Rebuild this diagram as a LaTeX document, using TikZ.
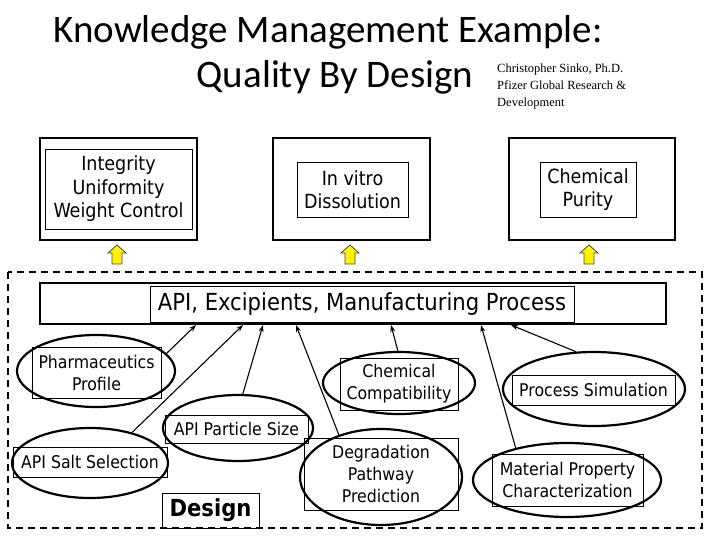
\documentclass[tikz,border=0pt]{standalone}
\usepackage{fontspec}
\setmainfont{DejaVu Sans Condensed}
\newfontfamily\titlefont{Carlito}
\newfontfamily\authfont{Liberation Serif}
\usetikzlibrary{shapes.geometric,arrows.meta}
\tikzset{
  txtbox/.style={draw,line width=0.6pt,align=center,inner sep=0pt},
  ell/.style={draw,ellipse,line width=2.2pt,inner sep=0pt},
  lnk/.style={line width=1.1pt,-{Stealth[length=7pt,width=5pt]}},
  yarrow/.style={draw=black!70,fill=yellow,line width=0.8pt},
  auth/.style={anchor=base west,inner sep=0pt,font=\authfont\fontsize{12.5}{14}\selectfont},
  etxt/.style={txtbox,font=\fontsize{17.5}{22}\selectfont},
}
\begin{document}
\begin{tikzpicture}[x=1pt,y=-1pt]
\useasboundingbox (0,0) rectangle (720,540);
% title
\node[anchor=base,font=\titlefont\fontsize{39}{40}\selectfont] (t1) at (328,43) {Knowledge Management Example:};
\node[anchor=base,font=\titlefont\fontsize{39}{40}\selectfont] (t2) at (335,88) {Quality By Design};
\node[auth] (au1) at (497,73) {Christopher Sinko, Ph.D.};
\node[auth] (au2) at (497,90) {Pfizer Global Research \&};
\node[auth] (au3) at (497,107) {Development};
% top boxes
\draw[line width=2.6pt] (40,138) rectangle (197,240);
\node[txtbox,minimum width=147,minimum height=80,font=\fontsize{19.5}{23.5}\selectfont] (b1) at (118.5,189) {Integrity\\Uniformity\\Weight Control};
\draw[line width=2.6pt] (273,138) rectangle (430,240);
\node[txtbox,minimum width=111,minimum height=55,font=\fontsize{19.5}{23.5}\selectfont] (b2) at (352.5,189.5) {In vitro\\Dissolution};
\draw[line width=2.6pt] (509,138) rectangle (675,240);
\node[txtbox,minimum width=96,minimum height=55,font=\fontsize{19.5}{23.5}\selectfont] (b3) at (588,189.5) {Chemical\\Purity};
% yellow arrows
\foreach \x in {117,350,589}{
  \draw[yarrow] (\x,245) -- (\x+9,253) -- (\x+5,253) -- (\x+5,264) -- (\x-5,264) -- (\x-5,253) -- (\x-9,253) -- cycle;
}
% dashed frame
\draw[line width=2.6pt,dash pattern=on 7pt off 5pt] (8,272) rectangle (702,528);
% big box
\draw[line width=2.8pt] (40,283) rectangle (666,324);
\node[txtbox,minimum width=424,minimum height=36,font=\fontsize{23.5}{26}\selectfont] (api) at (362,304) {API, Excipients, Manufacturing Process};
\coordinate (e1) at (196,325);
\coordinate (e2) at (243,325);
\coordinate (e3) at (263,325);
\coordinate (e4) at (296,325);
\coordinate (e5) at (391,325);
\coordinate (e6) at (481,325);
\coordinate (e7) at (511,325);
% ellipses
\node[etxt,minimum width=129,minimum height=51] (pp) at (96.5,372.5) {Pharmaceutics\\Profile};
\node[ell,minimum width=158,minimum height=72] (ppe) at (96,371) {};
\node[etxt,minimum width=118,minimum height=52] (cc) at (399,384) {Chemical\\Compatibility};
\node[ell,minimum width=152,minimum height=62] (cce) at (399,383) {};
\node[etxt,minimum width=163,minimum height=30] (ps) at (593.5,390) {Process Simulation};
\node[ell,minimum width=182,minimum height=74] (pse) at (594,389) {};
\node[etxt,minimum width=143,minimum height=28] (pz) at (236.5,429) {API Particle Size};
\node[ell,minimum width=150,minimum height=66] (pze) at (238,428) {};
\node[etxt,minimum width=154,minimum height=30] (ss) at (90,462) {API Salt Selection};
\node[ell,minimum width=156,minimum height=70] (sse) at (90,463) {};
\node[etxt,minimum width=154,minimum height=72] (dg) at (381,474) {Degradation\\Pathway\\Prediction};
\node[ell,minimum width=162,minimum height=96] (dge) at (381,477) {};
\node[etxt,minimum width=151,minimum height=52] (mp) at (567.5,480) {Material Property\\Characterization};
\node[ell,minimum width=188,minimum height=74] (mpe) at (567,480) {};
\node[txtbox,minimum width=97,minimum height=35,font=\bfseries\fontsize{23.5}{26}\selectfont] (ds) at (210.5,510.5) {Design};
% links
\draw[lnk] (ppe.14) -- (e1);
\draw[lnk] (sse.36) -- (e2);
\draw[lnk] (pze.82) -- (e3);
\draw[lnk] (dge.135) -- (e4);
\draw[lnk] (cce.92) -- (e5);
\draw[lnk] (mpe.148) -- (e6);
\draw[lnk] (pse.116) -- (e7);
\end{tikzpicture}
\end{document}
